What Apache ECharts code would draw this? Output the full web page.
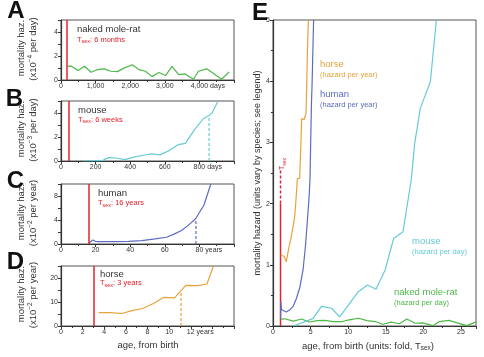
<!DOCTYPE html>
<html><head><meta charset="utf-8">
<script src="https://cdn.jsdelivr.net/npm/echarts@6/dist/echarts.min.js"></script>
<style>html,body{margin:0;padding:0;background:#fff}#c{width:484px;height:357px}</style>
</head><body><div id="c"></div>
<script>
// ---------- DATA ----------
// A: naked mole-rat, age in days, hazard x10^-4 per day
const moleDays = [200, 280, 490, 680, 870, 1060, 1250, 1440, 1630, 1820, 2060, 2250, 2440, 2630, 2830, 3020, 3210, 3400, 3590, 3830, 3970, 4210, 4400, 4640, 4860];
const moleHaz  = [1.13, 1.18, 0.79, 1.15, 0.65, 0.87, 0.93, 0.73, 0.70, 0.99, 1.27, 0.87, 0.73, 0.28, 0.62, 0.37, 1.13, 0.45, 0.51, 0.06, 0.73, 0.93, 0.56, 0.06, 0.68];
const moleTsex = 180;               // days (6 months)
// B: mouse, days, hazard x10^-3 per day
const mouseDays = [129, 196, 240, 273, 321, 369, 427, 475, 523, 571, 619, 677, 719, 773, 821, 856, 873, 908];
const mouseHaz  = [0.0, 0.03, 0.03, 0.28, 0.25, 0.11, 0.34, 0.48, 0.59, 0.51, 0.82, 1.36, 1.47, 2.63, 3.5, 3.8, 4.0, 5.0];
const mouseTsex = 42;               // days (6 weeks)
const mouseLifeExp = [856, 3.8];
// C: human, years, hazard x10^-2 per year
const humanYears = [16, 18.4, 19.8, 21.7, 30.3, 39, 46.7, 54.4, 61.1, 65, 69.7, 73.5, 77.8, 82.6, 86.6];
const humanHaz   = [0.1, 0.67, 0.45, 0.39, 0.39, 0.45, 0.56, 0.84, 1.12, 1.6, 2.25, 3.1, 4.2, 6.46, 10];
const humanTsex = 16;
const humanLifeExp = [78, 4.2];
// D: horse, years, hazard x10^-2 per year
const horseYears = [3.47, 4.55, 5.63, 6.55, 7.54, 8.55, 9.48, 10.5, 11.54, 12.65, 13.5, 14.1];
const horseHaz   = [5.6, 5.6, 5.2, 6.4, 7.3, 9.4, 11.9, 11.7, 16.9, 16.8, 17.5, 25];
const horseTsex = 3;
const horseLifeExp = [11.1, 14.7];
// E: age in fold T_sex
const eHorseX = [1.03, 1.47, 1.77, 2.09, 2.44, 2.89, 3.1, 3.24, 3.55, 3.82, 4.13, 4.4, 4.58, 4.71];
const eHorseY = [1.16, 1.14, 1.05, 1.27, 1.46, 1.79, 2.14, 2.41, 2.41, 3.39, 3.37, 3.48, 4.51, 5.0];
const eHumanX = [1.0, 1.04, 1.12, 1.24, 1.77, 2.2, 2.67, 3.11, 3.55, 4.0, 4.31, 4.58, 4.8, 4.92, 5.11, 5.2, 5.4];
const eHumanY = [0.12, 0.40, 0.27, 0.26, 0.23, 0.26, 0.32, 0.45, 0.62, 0.92, 1.30, 1.73, 2.11, 2.4, 3.61, 3.96, 5.0];
const eMouseX = [2.7, 5.3, 6.45, 7.8, 8.87, 11.35, 12.57, 13.7, 14.93, 16.04, 17.29, 18.4, 18.84, 19.6, 20.93, 21.73];
const eMouseY = [0.0, 0.12, 0.32, 0.29, 0.15, 0.56, 0.67, 0.60, 0.92, 1.43, 1.54, 2.4, 2.98, 3.56, 3.99, 5.0];
const eMoleX = [1.1, 1.56, 2.7, 3.8, 4.8, 5.9, 6.9, 8.0, 9.1, 10.1, 11.4, 12.5, 13.6, 14.6, 15.7, 16.8, 17.8, 18.9, 19.9, 21.3, 22.1, 23.4, 24.4, 25.8, 27.0];
const eMoleY = [0.113, 0.118, 0.079, 0.115, 0.065, 0.087, 0.093, 0.073, 0.07, 0.099, 0.127, 0.087, 0.073, 0.028, 0.062, 0.037, 0.113, 0.045, 0.051, 0.006, 0.073, 0.093, 0.056, 0.006, 0.068];
const eTsex = 1;
const eTsexSolidTop = 2.0, eTsexDashTop = 2.55;
// tick labels
const aXLabels = ['0', '1,000', '2,000', '3,000', '4,000'];
const bXLabels = ['0', '200', '400', '600', '800'];
const cXLabels = ['0', '20', '40', '60', '80'];
const dXLabels = ['0', '2', '4', '6', '8', '10', '12'];
const eXLabels = ['0', '5', '10', '15', '20', '25'];
const aYLabels = [0, 2, 4], bYLabels = [0, 2, 4], cYLabels = [0, 4, 8], dYLabels = [0, 10, 20], eYLabels = [0, 1, 2, 3, 4, 5];

// ---------- STYLE ----------
const FF = '"Liberation Sans", Arial, Helvetica, sans-serif';
const RED = '#e3232b', GREEN = '#4db848', CYAN = '#67cbd5', BLUE = '#5b6cc4', ORANGE = '#e9a23b';
const AX = '#333';
const TICKF = 7;

const cv = document.createElement('canvas').getContext('2d');
function tw(s, size) { cv.font = size + 'px ' + FF; return cv.measureText(s).width; }

const grids = [
  {left: 61, top: 20, width: 173, height: 60},
  {left: 61, top: 101, width: 173, height: 60},
  {left: 61, top: 184, width: 173, height: 60},
  {left: 61, top: 266, width: 173, height: 60},
  {left: 273, top: 20, width: 203, height: 306}
].map(g => Object.assign(g, {show: true, borderColor: '#555', borderWidth: 1, backgroundColor: 'transparent', containLabel: false}));

function xAxis(gi, max, interval, labels, unit) {
  const pad = unit ? tw(' ' + unit, TICKF) : 0;
  return {
    type: 'value', gridIndex: gi, min: 0, max: max, interval: interval,
    axisLine: {show: true, onZero: false, lineStyle: {color: AX, width: 1.2}},
    axisTick: {show: true, inside: false, length: 3, lineStyle: {color: AX}},
    minorTick: {show: true, splitNumber: 2, length: 2, lineStyle: {color: AX}},
    splitLine: {show: false}, minorSplitLine: {show: false},
    axisLabel: {
      show: true, margin: 3, fontSize: TICKF, color: '#333', fontFamily: FF,
      formatter: function (v) {
        const i = Math.round(v / interval);
        if (Math.abs(v - i * interval) > 1e-9 || i >= labels.length) return '';
        if (unit && i === labels.length - 1) return '{n|' + labels[i] + '}{u| ' + unit + '}';
        return labels[i];
      },
      rich: {n: {padding: [0, 0, 0, pad], fontSize: TICKF, fontFamily: FF, color: '#333'}, u: {fontSize: TICKF, fontFamily: FF, color: '#333'}}
    }
  };
}
function yAxis(gi, max, interval, labels, minor) {
  return {
    type: 'value', gridIndex: gi, min: 0, max: max, interval: interval,
    axisLine: {show: true, onZero: false, lineStyle: {color: AX, width: 1.2}},
    axisTick: {show: true, inside: false, length: 3, lineStyle: {color: AX}},
    minorTick: {show: !!minor, splitNumber: 2, length: 2, lineStyle: {color: AX}},
    splitLine: {show: false}, minorSplitLine: {show: false},
    axisLabel: {show: true, margin: 3, fontSize: TICKF, color: '#333', fontFamily: FF,
      formatter: v => labels.indexOf(v) >= 0 ? String(v) : ''}
  };
}

function line(gi, xs, ys, color, extra) {
  return Object.assign({
    type: 'line', xAxisIndex: gi, yAxisIndex: gi,
    data: xs.map((x, i) => [x, ys[i]]),
    showSymbol: false, symbol: 'none', silent: true, animation: false,
    lineStyle: {color: color, width: 1.2}, itemStyle: {color: color}, z: 3
  }, extra || {});
}
function tsexMark(v) {
  return {silent: true, symbol: ['none', 'none'], label: {show: false}, animation: false,
    lineStyle: {color: RED, width: 1.5, type: 'solid'}, data: [{xAxis: v}]};
}
function dashed(gi, pt, color) {
  return line(gi, [pt[0], pt[0]], [0, pt[1]], color, {lineStyle: {color: color, width: 1.2, type: [3, 2]}});
}

const series = [
  line(0, moleDays, moleHaz, GREEN, {markLine: tsexMark(moleTsex)}),
  line(1, mouseDays, mouseHaz, CYAN, {markLine: tsexMark(mouseTsex)}),
  dashed(1, mouseLifeExp, CYAN),
  line(2, humanYears, humanHaz, BLUE, {markLine: tsexMark(humanTsex)}),
  dashed(2, humanLifeExp, BLUE),
  line(3, horseYears, horseHaz, ORANGE, {markLine: tsexMark(horseTsex)}),
  dashed(3, horseLifeExp, ORANGE),
  line(4, [eTsex, eTsex], [0, eTsexSolidTop], RED, {lineStyle: {color: RED, width: 1.5}}),
  line(4, [eTsex, eTsex], [eTsexSolidTop, eTsexDashTop], RED, {lineStyle: {color: RED, width: 1.5, type: [3, 2]}}),
  line(4, eMoleX, eMoleY, GREEN),
  line(4, eMouseX, eMouseY, CYAN),
  line(4, eHumanX, eHumanY, BLUE),
  line(4, eHorseX, eHorseY, ORANGE)
];

// ---------- TEXT ----------
function txt(text, x, y, o) {
  o = o || {};
  const st = {text: text, fill: o.fill || '#333', fontSize: o.size || 9.5, fontFamily: FF,
    fontWeight: o.bold ? 'bold' : 'normal', align: o.align || 'left', verticalAlign: o.va || 'middle'};
  if (o.rich) st.rich = o.rich;
  return {type: 'text', x: x, y: y, rotation: o.rot || 0, silent: true, z: 10, style: st};
}
function subRich(color, size) {
  return {
    t: {fontSize: size, lineHeight: size + 2.5, fill: color, fontFamily: FF},
    s: {fontSize: size * 0.72, lineHeight: size * 0.72, verticalAlign: 'bottom', fill: color, fontFamily: FF}
  };
}
function tsexText(rest, x, y) {
  return txt('{t|T}{s|sex}{t|: ' + rest + '}', x, y, {fill: RED, size: 7.5, rich: subRich(RED, 7.5)});
}
const supRich = {
  m: {fontSize: 9.5, lineHeight: 12.5, fill: '#333', fontFamily: FF},
  p: {fontSize: 6.5, lineHeight: 6.5, verticalAlign: 'top', fill: '#333', fontFamily: FF}
};
function yTitle(exp, unit, c1, c2) {
  return [
    txt('mortality haz.', 21.5, c1, {rot: Math.PI / 2, align: 'center', size: 9.5}),
    txt('{m|(x10}{p|−' + exp + '}{m| per ' + unit + ')}', 33, c2, {rot: Math.PI / 2, align: 'center', size: 9.5, rich: supRich})
  ];
}

const graphics = [
  txt('A', 16, 11.5, {align: 'center', size: 24, bold: true, fill: '#111'}),
  txt('B', 14.5, 99, {align: 'center', size: 24, bold: true, fill: '#111'}),
  txt('C', 15.5, 181.5, {align: 'center', size: 24, bold: true, fill: '#111'}),
  txt('D', 15.5, 262.5, {align: 'center', size: 24, bold: true, fill: '#111'}),
  txt('E', 260, 13, {align: 'center', size: 24, bold: true, fill: '#111'}),
  ...yTitle('4', 'day', 48, 49),
  ...yTitle('3', 'day', 129, 130),
  ...yTitle('2', 'year', 212, 213),
  ...yTitle('2', 'year', 294, 295),
  txt('naked mole-rat', 77, 29),
  tsexText('6 months', 77, 39.5),
  txt('mouse', 78, 110),
  tsexText('6 weeks', 78, 119.5),
  txt('human', 98, 193),
  tsexText('16 years', 98, 202.7),
  txt('horse', 100, 274),
  tsexText('3 years', 100, 283),
  txt('age, from birth', 148, 345, {align: 'center', size: 9.5}),
  txt('{m|age, from birth (units: fold, T}{s|sex}{m|)}', 368, 346, {align: 'center', size: 9.5,
    rich: {m: {fontSize: 9.5, lineHeight: 12, fill: '#333', fontFamily: FF}, s: {fontSize: 6.5, lineHeight: 6.5, verticalAlign: 'bottom', fill: '#333', fontFamily: FF}}}),
  txt('mortality hazard (units vary by species; see legend)', 258, 173, {rot: Math.PI / 2, align: 'center', size: 9}),
  txt('{t|T}{s|sex}', 282.5, 164, {rot: Math.PI / 2, align: 'center', fill: RED, size: 7, rich: subRich(RED, 7)}),
  txt('horse', 320, 64, {fill: ORANGE}),
  txt('(hazard per year)', 320, 75, {fill: ORANGE, size: 7.5}),
  txt('human', 320, 94, {fill: BLUE}),
  txt('(hazard per year)', 320, 105, {fill: BLUE, size: 7.5}),
  txt('mouse', 412, 241, {fill: CYAN}),
  txt('(hazard per day)', 412, 252.3, {fill: CYAN, size: 7.5}),
  txt('naked mole-rat', 394, 292.3, {fill: GREEN}),
  txt('(hazard per day)', 394, 302.7, {fill: GREEN, size: 7.5})
];

const chart = echarts.init(document.getElementById('c'), null, {renderer: 'canvas'});
chart.setOption({
  animation: false,
  backgroundColor: '#fff',
  textStyle: {fontFamily: FF},
  grid: grids,
  xAxis: [
    xAxis(0, 5000, 1000, aXLabels, 'days'),
    xAxis(1, 1000, 200, bXLabels, 'days'),
    xAxis(2, 100, 20, cXLabels, 'years'),
    xAxis(3, 16, 2, dXLabels, 'years'),
    xAxis(4, 27, 5, eXLabels, '')
  ],
  yAxis: [
    yAxis(0, 5, 1, aYLabels),
    yAxis(1, 5, 1, bYLabels),
    yAxis(2, 10, 2, cYLabels),
    yAxis(3, 25, 5, dYLabels),
    yAxis(4, 5, 1, eYLabels, true)
  ],
  series: series,
  graphic: graphics
});
</script></body></html>
